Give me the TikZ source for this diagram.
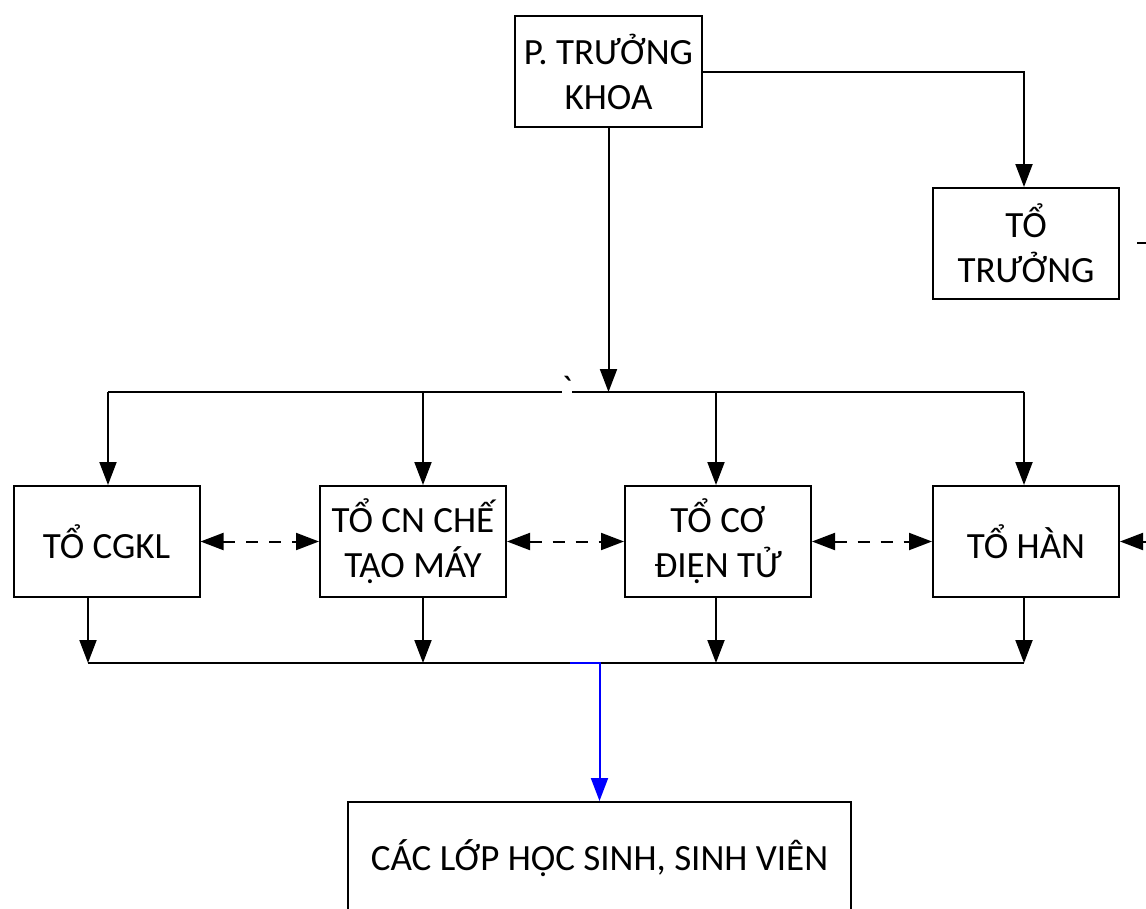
\documentclass[tikz,border=0pt]{standalone}
\usepackage{fontspec}
\setmainfont{Carlito}
\newfontfamily\btfont{Carlito}
\usetikzlibrary{arrows.meta,calc}
\begin{document}
\begin{tikzpicture}[x=1pt,y=-1pt,
  box/.style={draw,line width=2pt,minimum width=186pt,minimum height=111pt,inner sep=0pt,align=center,font=\fontsize{37}{45}\selectfont},
  conn/.style={line width=2pt},
  arr/.style={conn,-{Triangle[length=23pt,width=17pt]}},
  darr/.style={conn,dash pattern=on 12pt off 11pt,{Triangle[length=23pt,width=17pt]}-{Triangle[length=23pt,width=17pt]}}]
\useasboundingbox (0,0) rectangle (1146,908);
\clip (0,0) rectangle (1146,908);
\node[box,minimum width=187pt] (ptk) at (608.5,71.5) {P. TRƯỞNG\\KHOA};
\node[box] (tt) at (1026,243.5) {TỔ\\TRƯỞNG};
\node[box] (b1) at (106.5,541.5) {TỔ CGKL};
\node[box] (b2) at (413,541.5) {TỔ CN CHẾ\\TẠO MÁY};
\node[box] (b3) at (718,541.5) {TỔ CƠ\\ĐIỆN TỬ};
\node[box] (b4) at (1026,541.5) {TỔ HÀN};
\node[box,minimum width=503pt,minimum height=112pt] (cl) at (599.5,858) {CÁC LỚP HỌC SINH, SINH VIÊN};
% top bus
\coordinate (tl) at (108,392);
\coordinate (tr) at (1024,392);
\draw[conn] (tl) -- (tr);
\node[fill=white,inner xsep=0pt,inner ysep=0pt,anchor=north,font=\btfont\fontsize{37}{37}\selectfont] (bt) at (567,376) {`};
\draw[arr] (ptk.east) -| ([xshift=-2pt]tt.north);
\draw[arr] (ptk.south) -- (ptk.south |- tl);
\draw[arr] ([xshift=1.5pt]b1.north |- tl) -- ([xshift=1.5pt]b1.north);
\draw[arr] ([xshift=10pt]b2.north |- tl) -- ([xshift=10pt]b2.north);
\draw[arr] ([xshift=-2pt]b3.north |- tl) -- ([xshift=-2pt]b3.north);
\draw[arr] ([xshift=-2pt]b4.north |- tl) -- ([xshift=-2pt]b4.north);
% bottom bus
\coordinate (bl) at (88,663);
\coordinate (br) at (1024,663);
\draw[conn] (bl) -- (br);
\draw[arr] ([xshift=-18.5pt]b1.south) -- ([xshift=-18.5pt]b1.south |- bl);
\draw[arr] ([xshift=10pt]b2.south) -- ([xshift=10pt]b2.south |- bl);
\draw[arr] ([xshift=-2pt]b3.south) -- ([xshift=-2pt]b3.south |- bl);
\draw[arr] ([xshift=-2pt]b4.south) -- ([xshift=-2pt]b4.south |- bl);
\coordinate (bs) at (570,663);
\draw[arr,blue] (bs) -| (cl.north);
% dashed links
\draw[darr] (b1.east) -- (b2.west);
\draw[darr] (b2.east) -- (b3.west);
\draw[darr] (b3.east) -- (b4.west);
\coordinate (re) at (1146,541.5);
\draw[arr] (re) -- (b4.east);
\coordinate (ta) at (1137,243);
\coordinate (tb) at (1146,243);
\draw[conn] (ta) -- (tb);
\end{tikzpicture}
\end{document}
